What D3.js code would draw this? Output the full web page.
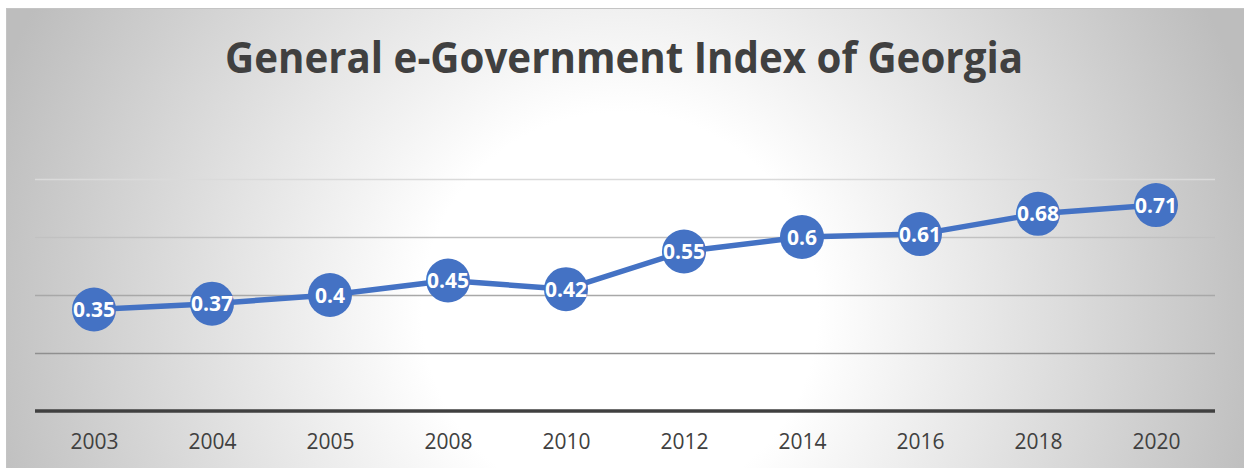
<!DOCTYPE html>
<html>
<head>
<meta charset="utf-8">
<script src="https://cdn.jsdelivr.net/npm/d3@7"></script>
<style>
  body { margin: 0; background: #fff; }
  svg { display: block; }
</style>
</head>
<body>
<svg id="chart" width="1244" height="468"></svg>
<script>
const width = 1244;
const height = 468;

const title = "General e-Government Index of Georgia";
const years = ["2003", "2004", "2005", "2008", "2010", "2012", "2014", "2016", "2018", "2020"];
const values = [0.35, 0.37, 0.4, 0.45, 0.42, 0.55, 0.6, 0.61, 0.68, 0.71];
const gridTicks = [0.2, 0.4, 0.6, 0.8];

const svg = d3.select("#chart");

// background gradient, light in the middle
const defs = svg.append("defs");
const grad = defs.append("radialGradient")
  .attr("id", "bg")
  .attr("gradientUnits", "userSpaceOnUse")
  .attr("cx", 620).attr("cy", 310).attr("r", 660);
grad.append("stop").attr("offset", "0").attr("stop-color", "#ffffff");
grad.append("stop").attr("offset", "0.3").attr("stop-color", "#ffffff");
grad.append("stop").attr("offset", "1").attr("stop-color", "#bdbdbd");

svg.append("rect")
  .attr("x", 6.5).attr("y", 8.5)
  .attr("width", width - 6).attr("height", height - 8)
  .attr("fill", "url(#bg)")
  .attr("stroke", "#c4c4c4");

svg.append("text")
  .attr("x", 624)
  .attr("y", 73)
  .attr("text-anchor", "middle")
  .attr("font-family", "'Open Sans', sans-serif")
  .attr("font-weight", "bold")
  .attr("font-size", 43)
  .attr("fill", "#404040")
  .attr("textLength", 798)
  .attr("lengthAdjust", "spacingAndGlyphs")
  .text(title);

const x = d3.scalePoint()
  .domain(years)
  .range([35, 1215])
  .padding(0.5);

const y = d3.scaleLinear()
  .domain([0, 1])
  .range([411, 121]);

const gridColor = d3.scaleLinear()
  .domain([0.2, 0.8])
  .range(["#8f8f8f", "#dadada"]);

svg.append("g")
  .selectAll("line")
  .data(gridTicks)
  .join("line")
  .attr("x1", 35).attr("x2", 1215)
  .attr("y1", d => Math.round(y(d)) + 0.5)
  .attr("y2", d => Math.round(y(d)) + 0.5)
  .attr("stroke", d => gridColor(d))
  .attr("stroke-width", 1.5);

// x axis
const xAxis = svg.append("g")
  .attr("transform", `translate(0,${y(0)})`)
  .call(d3.axisBottom(x).tickSize(0).tickPadding(23));
xAxis.select(".domain")
  .attr("d", "M35,0H1215")
  .attr("stroke", "#404040")
  .attr("stroke-width", 3.5);
xAxis.selectAll("text")
  .attr("font-family", "'Open Sans', sans-serif")
  .attr("font-size", 21)
  .attr("fill", "#404040");

const line = d3.line()
  .x((d, i) => x(years[i]))
  .y(d => y(d));

svg.append("path")
  .datum(values)
  .attr("d", line)
  .attr("fill", "none")
  .attr("stroke", "#4472c4")
  .attr("stroke-width", 5.5)
  .attr("stroke-linejoin", "round");

const pts = svg.append("g")
  .selectAll("g")
  .data(values)
  .join("g")
  .attr("transform", (d, i) => `translate(${x(years[i])},${y(d)})`);

pts.append("circle")
  .attr("r", 22)
  .attr("fill", "#4472c4");

pts.append("text")
  .attr("text-anchor", "middle")
  .attr("dy", "0.36em")
  .attr("font-family", "'Open Sans', sans-serif")
  .attr("font-weight", "bold")
  .attr("font-size", 21)
  .attr("fill", "#fff")
  .text(d => d);
</script>
</body>
</html>
